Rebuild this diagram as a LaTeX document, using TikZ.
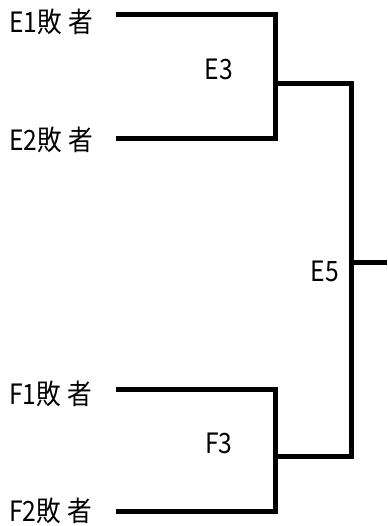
\documentclass[tikz,border=0pt]{standalone}
\usepackage{fontspec}
\setmainfont{Noto Sans CJK JP}[FakeStretch=0.88]
\usepackage{tikz}
\usetikzlibrary{positioning}

\begin{document}
\begin{tikzpicture}[x=1bp,y=-1bp]
	\tikzset{lbl/.style={font=\fontsize{28bp}{32bp}\selectfont,inner sep=0pt},
		bracket/.style={line width=5bp}}
	\def\L{9}
	\def\S{116}
	\def\X{275.5}
	\def\M{351}
	\useasboundingbox (0,0) rectangle (387,526);
	
	% labels
	\node[lbl,anchor=west] (e1) at (\L,22) {E1敗\hspace{6bp}者};
	\node[lbl,anchor=west] (e2) at (\L,140) {E2敗\hspace{6bp}者};
	\node[lbl,anchor=west] (f1) at (\L,394) {F1敗\hspace{6bp}者};
	\node[lbl,anchor=west] (f2) at (\L,511) {F2敗\hspace{6bp}者};
	\node[lbl] (e3) at (219,69) {E3};
	\node[lbl] (f3) at (219,443) {F3};
	\node[lbl] (e5) at (325,271) {E5};
	
	% line ends and joins
	\coordinate (e1a) at (\S,15);
	\coordinate (e2a) at (\S,139);
	\coordinate (f1a) at (\S,389);
	\coordinate (f2a) at (\S,511);
	\coordinate (e3j) at (\X,84);
	\coordinate (f3j) at (\X,456);
	\coordinate (e5j) at (\M,262.5);
	\coordinate (e5o) at (387,262.5);
	
	% E bracket
	\draw[bracket] (e1a) -| (e3j) |- (e2a);
	% F bracket
	\draw[bracket] (f1a) -| (f3j) |- (f2a);
	% final
	\draw[bracket] (e3j) -| (e5j) |- (f3j);
	\draw[bracket] (e5j) -- (e5o);
\end{tikzpicture}
\end{document}
